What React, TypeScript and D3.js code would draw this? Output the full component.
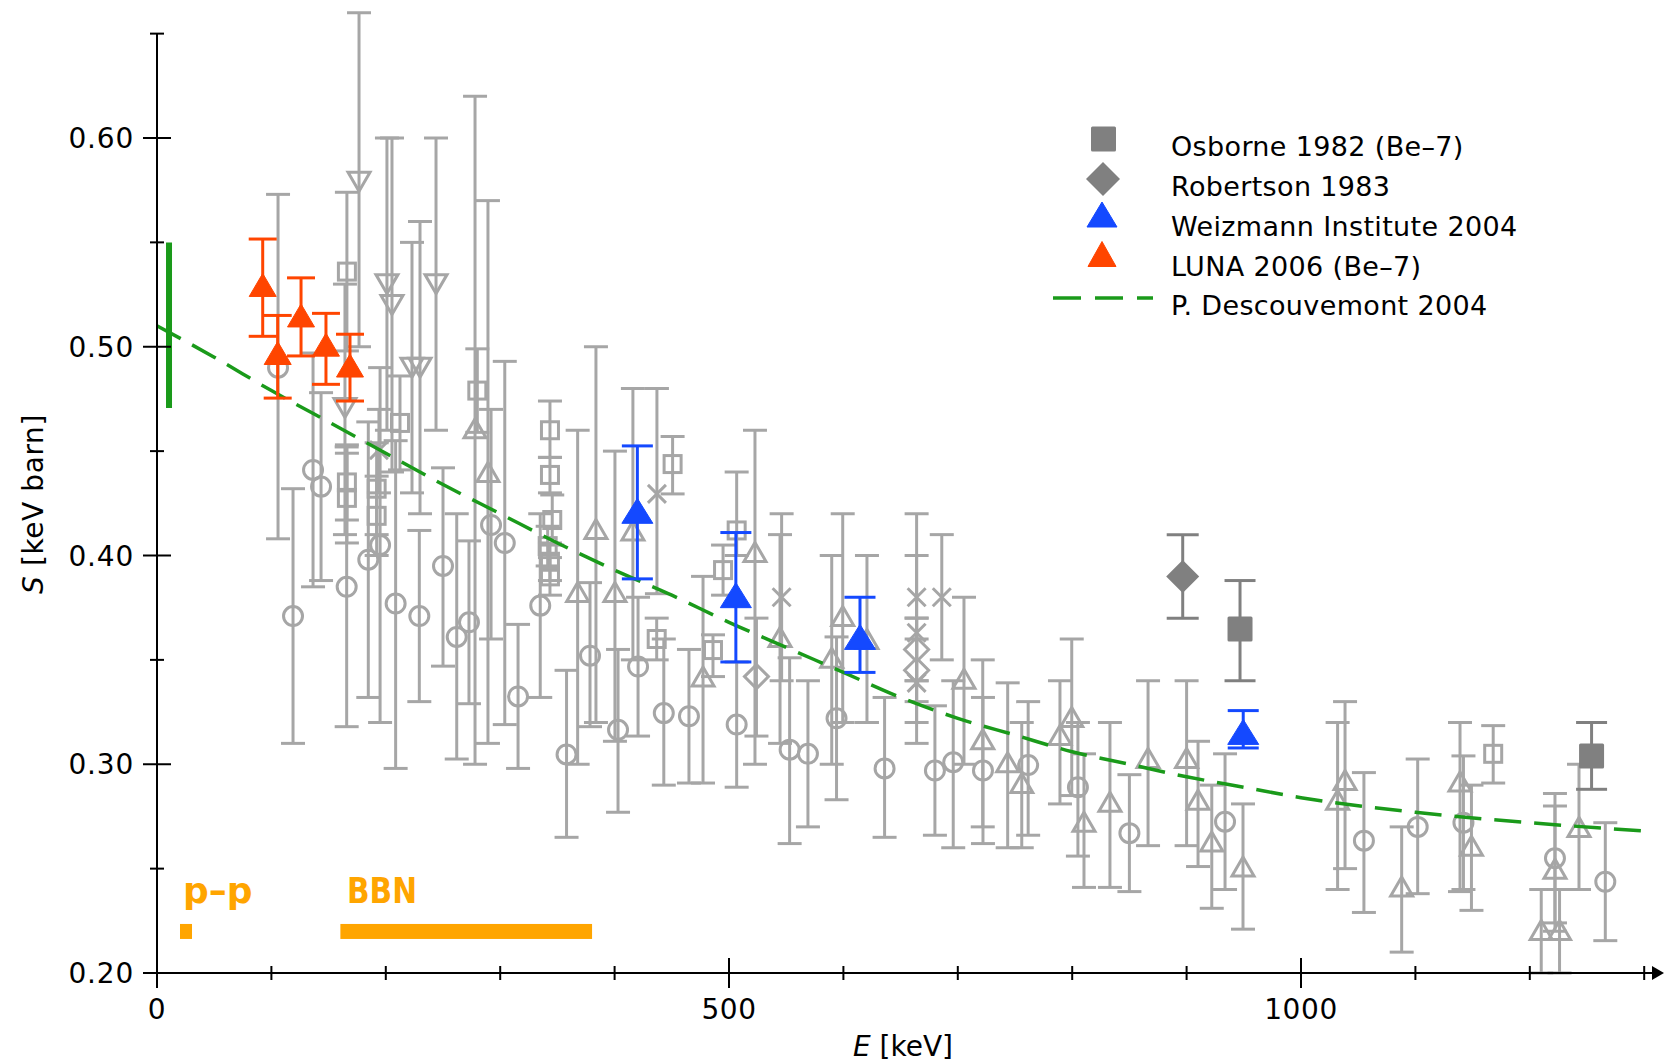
import React from 'react';
import * as d3 from 'd3';

// ---------- axis ticks ----------
const xMajorTicks = [0, 500, 1000];
const xMinorTicks = [100, 200, 300, 400, 600, 700, 800, 900, 1100, 1200, 1300];
const yMajorTicks = [0.2, 0.3, 0.4, 0.5, 0.6];
const yMajorLabels = ['0.20', '0.30', '0.40', '0.50', '0.60'];
const yMinorTicks = [0.25, 0.35, 0.45, 0.55, 0.65];

// ---------- data: [E keV, S, low, high] ----------
const grayCircles = [
  [105.8, 0.490, 0.408, 0.573], [118.9, 0.371, 0.310, 0.432], [136.4, 0.441, 0.385, 0.497],
  [143.4, 0.433, 0.388, 0.478], [165.8, 0.385, 0.318, 0.452], [184.7, 0.398, 0.332, 0.464],
  [195.0, 0.405, 0.320, 0.490], [208.6, 0.377, 0.298, 0.455], [229.3, 0.371, 0.330, 0.412],
  [250.0, 0.395, 0.347, 0.442], [262.0, 0.361, 0.3025, 0.420], [272.7, 0.368, 0.329, 0.407],
  [292.0, 0.4146, 0.360, 0.470], [304.0, 0.406, 0.319, 0.493], [315.6, 0.3325, 0.298, 0.367],
  [335.0, 0.376, 0.332, 0.420], [358.0, 0.3047, 0.265, 0.345], [378.5, 0.352, 0.318, 0.387],
  [403.0, 0.3165, 0.277, 0.355], [420.5, 0.3468, 0.3135, 0.380], [443.0, 0.3245, 0.290, 0.360],
  [465.0, 0.323, 0.291, 0.355], [506.7, 0.319, 0.289, 0.349], [553.0, 0.307, 0.262, 0.351],
  [569.0, 0.305, 0.270, 0.340], [594.0, 0.322, 0.283, 0.361], [636.0, 0.298, 0.265, 0.332],
  [680.0, 0.297, 0.266, 0.328], [696.0, 0.301, 0.260, 0.340], [722.0, 0.297, 0.262, 0.332],
  [761.5, 0.2996, 0.266, 0.330], [805.0, 0.289, 0.256, 0.320], [850.0, 0.267, 0.239, 0.295],
  [933.6, 0.2725, 0.240, 0.305], [1055.0, 0.2634, 0.229, 0.296], [1102.0, 0.270, 0.238, 0.3025],
  [1142.0, 0.272, 0.240, 0.304], [1222.0, 0.255, 0.224, 0.286], [1266.0, 0.2437, 0.2155, 0.272],
];
const graySquares = [
  [166.0, 0.536, 0.498, 0.574], [166.0, 0.435, 0.417, 0.453], [166.0, 0.4276, 0.406, 0.449],
  [192.0, 0.432, 0.410, 0.454], [192.0, 0.419, 0.400, 0.438], [212.4, 0.4635, 0.441, 0.486],
  [280.0, 0.479, 0.459, 0.499], [343.5, 0.460, 0.447, 0.474], [343.5, 0.4386, 0.430, 0.447],
  [345.5, 0.417, 0.405, 0.429], [341.5, 0.4045, 0.395, 0.414], [343.5, 0.397, 0.388, 0.406],
  [343.5, 0.390, 0.381, 0.399], [436.8, 0.360, 0.350, 0.370], [450.7, 0.4438, 0.4295, 0.457],
  [486.0, 0.3547, 0.342, 0.362], [494.8, 0.393, 0.381, 0.405], [506.7, 0.412, 0.400, 0.440],
  [1168.0, 0.305, 0.291, 0.3185],
];
const grayTrianglesDown = [
  [164.3, 0.4707, 0.410, 0.530], [176.6, 0.579, 0.500, 0.660], [201.0, 0.530, 0.460, 0.600],
  [205.4, 0.520, 0.440, 0.600], [222.9, 0.490, 0.430, 0.550], [229.9, 0.490, 0.420, 0.560],
  [243.9, 0.530, 0.460, 0.600],
];
const grayTrianglesUp = [
  [278.0, 0.461, 0.300, 0.620], [289.3, 0.440, 0.310, 0.570], [367.7, 0.3825, 0.300, 0.460],
  [383.7, 0.4127, 0.320, 0.500], [400.3, 0.3825, 0.311, 0.450], [416.0, 0.412, 0.350, 0.480],
  [477.3, 0.342, 0.291, 0.390], [522.7, 0.4017, 0.300, 0.460], [544.6, 0.361, 0.310, 0.410],
  [589.8, 0.351, 0.300, 0.400], [599.4, 0.371, 0.320, 0.420], [620.6, 0.360, 0.320, 0.400],
  [705.4, 0.341, 0.300, 0.380], [721.8, 0.312, 0.270, 0.350], [743.6, 0.301, 0.260, 0.339],
  [755.9, 0.291, 0.260, 0.320], [789.3, 0.314, 0.281, 0.340], [799.6, 0.3226, 0.285, 0.360],
  [810.3, 0.2725, 0.241, 0.305], [833.0, 0.282, 0.241, 0.320], [866.3, 0.303, 0.261, 0.340],
  [900.0, 0.303, 0.261, 0.340], [910.0, 0.283, 0.251, 0.311], [922.0, 0.263, 0.231, 0.290],
  [949.3, 0.251, 0.221, 0.281], [1032.0, 0.283, 0.240, 0.320], [1038.5, 0.2925, 0.250, 0.330],
  [1088.0, 0.2414, 0.210, 0.270], [1139.0, 0.2917, 0.239, 0.320], [1149.0, 0.261, 0.230, 0.290],
  [1210.0, 0.2206, 0.200, 0.240], [1226.0, 0.2206, 0.200, 0.240], [1222.0, 0.250, 0.220, 0.280],
  [1243.0, 0.270, 0.240, 0.300],
];
const grayCrosses = [
  [194.0, 0.4505, 0.430, 0.470], [437.0, 0.4295, 0.3817, 0.480], [546.0, 0.380, 0.340, 0.420],
  [664.0, 0.380, 0.340, 0.420], [664.0, 0.363, 0.320, 0.400], [664.0, 0.339, 0.310, 0.370],
  [686.0, 0.380, 0.350, 0.410],
];
const grayDiamonds = [
  [524.0, 0.342, 0.3135, 0.370], [664.0, 0.355, 0.340, 0.370], [664.0, 0.345, 0.330, 0.360],
];

const osborne = [[946.7, 0.3648, 0.340, 0.388], [1254.0, 0.304, 0.288, 0.320]];
const robertson = [[896.6, 0.390, 0.370, 0.410]];
const weizmann = [
  [419.9, 0.4214, 0.3888, 0.4525], [506.0, 0.381, 0.349, 0.411],
  [614.5, 0.361, 0.344, 0.380], [949.5, 0.3155, 0.3078, 0.3257],
];
const luna = [
  [92.4, 0.5296, 0.505, 0.5516], [105.5, 0.497, 0.4754, 0.515], [125.9, 0.515, 0.4956, 0.533],
  [147.7, 0.501, 0.482, 0.516], [168.7, 0.491, 0.474, 0.506],
];

// Descouvemont 2004 theory curve
const descE = [0, 50, 100, 150, 200, 250, 300, 350, 400, 450, 500, 550, 600, 650, 700, 750, 800, 850, 900, 950, 1000, 1100, 1200, 1300];
const descS = [0.510, 0.495, 0.479, 0.464, 0.449, 0.434, 0.420, 0.406, 0.393, 0.381, 0.368, 0.356, 0.344, 0.332, 0.322, 0.314, 0.306, 0.300, 0.294, 0.289, 0.284, 0.277, 0.272, 0.268];

// extrapolated S(0) bar
const s0E = 10.5;
const s0Range = [0.4707, 0.550];

// astrophysical energy windows
const windowS = 0.2199;
const ppRange = [20.1, 30.6];
const bbnRange = [160.3, 380.3];

const legendLabels = ['Osborne 1982 (Be\u20137)', 'Robertson 1983', 'Weizmann Institute 2004', 'LUNA 2006 (Be\u20137)', 'P. Descouvemont 2004'];

// ---------- colours ----------
const LIGHT = '#a6a6a6';
const DARK = '#808080';
const BLUE = '#1449ff';
const RED = '#ff4500';
const GREEN = '#1a9a1a';
const ORANGE = '#ffa500';

const W = 1664;
const H = 1063;
const FONT = "'DejaVu Sans', Verdana, sans-serif";

const x = d3.scaleLinear().domain([0, 1000]).range([157, 1301]);
const y = d3.scaleLinear().domain([0.2, 0.6]).range([973, 138]);

const triPath = (cx: number, cy: number, w: number, h: number, up = true) =>
  up
    ? `M${cx},${cy - h / 2}L${cx + w / 2},${cy + h / 2}L${cx - w / 2},${cy + h / 2}Z`
    : `M${cx},${cy + h / 2}L${cx + w / 2},${cy - h / 2}L${cx - w / 2},${cy - h / 2}Z`;
const diamondPath = (cx: number, cy: number, s: number) =>
  `M${cx},${cy - s}L${cx + s},${cy}L${cx},${cy + s}L${cx - s},${cy}Z`;
const crossPath = (cx: number, cy: number, s: number) =>
  `M${cx - s},${cy - s}L${cx + s},${cy + s}M${cx - s},${cy + s}L${cx + s},${cy - s}`;

function ErrorBar({ d, color, cap, sw }: { d: number[]; color: string; cap: number; sw: number }) {
  const cx = x(d[0]);
  const y0 = y(d[2]);
  const y1 = y(d[3]);
  return (
    <g stroke={color} strokeWidth={sw} fill="none">
      <line x1={cx} x2={cx} y1={y0} y2={y1} />
      <line x1={cx - cap / 2} x2={cx + cap / 2} y1={y0} y2={y0} />
      <line x1={cx - cap / 2} x2={cx + cap / 2} y1={y1} y2={y1} />
    </g>
  );
}

export default function App() {
  const descLine = d3
    .line<number>()
    .x((_, i) => x(descE[i]))
    .y((v) => y(v))
    .curve(d3.curveMonotoneX)(descS) as string;

  const xEnd = 1664;
  const gsw = 3;
  const gcap = 24;

  return (
    <svg width={W} height={H} viewBox={`0 0 ${W} ${H}`} style={{ position: 'absolute', left: 0, top: 0, background: '#fff' }} fontFamily={FONT}>
      <rect x={0} y={0} width={W} height={H} fill="#fff" />

      {/* gray literature data */}
      <g>
        {grayCircles.map((d, i) => (
          <g key={`c${i}`}>
            <ErrorBar d={d} color={LIGHT} cap={gcap} sw={gsw} />
            <circle cx={x(d[0])} cy={y(d[1])} r={9.5} fill="none" stroke={LIGHT} strokeWidth={gsw} />
          </g>
        ))}
        {graySquares.map((d, i) => (
          <g key={`s${i}`}>
            <ErrorBar d={d} color={LIGHT} cap={gcap} sw={gsw} />
            <rect x={x(d[0]) - 8.5} y={y(d[1]) - 8.5} width={17} height={17} fill="none" stroke={LIGHT} strokeWidth={gsw} />
          </g>
        ))}
        {grayTrianglesDown.map((d, i) => (
          <g key={`td${i}`}>
            <ErrorBar d={d} color={LIGHT} cap={gcap} sw={gsw} />
            <path d={triPath(x(d[0]), y(d[1]), 22, 19, false)} fill="none" stroke={LIGHT} strokeWidth={gsw} strokeLinejoin="miter" />
          </g>
        ))}
        {grayTrianglesUp.map((d, i) => (
          <g key={`tu${i}`}>
            <ErrorBar d={d} color={LIGHT} cap={gcap} sw={gsw} />
            <path d={triPath(x(d[0]), y(d[1]), 22, 19, true)} fill="none" stroke={LIGHT} strokeWidth={gsw} strokeLinejoin="miter" />
          </g>
        ))}
        {grayCrosses.map((d, i) => (
          <g key={`x${i}`}>
            <ErrorBar d={d} color={LIGHT} cap={gcap} sw={gsw} />
            <path d={crossPath(x(d[0]), y(d[1]), 9)} fill="none" stroke={LIGHT} strokeWidth={gsw} />
          </g>
        ))}
        {grayDiamonds.map((d, i) => (
          <g key={`dm${i}`}>
            <ErrorBar d={d} color={LIGHT} cap={gcap} sw={gsw} />
            <path d={diamondPath(x(d[0]), y(d[1]), 12)} fill="none" stroke={LIGHT} strokeWidth={gsw} />
          </g>
        ))}
      </g>

      {/* theory curve */}
      <path d={descLine} fill="none" stroke={GREEN} strokeWidth={3.5} strokeDasharray="27 13" />

      {/* S(0) bar */}
      <line x1={x(s0E)} x2={x(s0E)} y1={y(s0Range[0])} y2={y(s0Range[1])} stroke={GREEN} strokeWidth={6} />

      {/* highlighted data */}
      {robertson.map((d, i) => (
        <g key={`r${i}`}>
          <ErrorBar d={d} color={DARK} cap={32} sw={3} />
          <path d={diamondPath(x(d[0]), y(d[1]), 16.5)} fill={DARK} />
        </g>
      ))}
      {osborne.map((d, i) => (
        <g key={`o${i}`}>
          <ErrorBar d={d} color={DARK} cap={31} sw={3} />
          <rect x={x(d[0]) - 12.5} y={y(d[1]) - 12.5} width={25} height={25} rx={1.5} fill={DARK} />
        </g>
      ))}
      {weizmann.map((d, i) => (
        <g key={`w${i}`}>
          <ErrorBar d={d} color={BLUE} cap={31} sw={3} />
          <path d={triPath(x(d[0]), y(d[1]), 31, 25, true)} fill={BLUE} stroke={BLUE} strokeWidth={1} strokeLinejoin="round" />
        </g>
      ))}
      {luna.map((d, i) => (
        <g key={`l${i}`}>
          <ErrorBar d={d} color={RED} cap={28} sw={3} />
          <path d={triPath(x(d[0]), y(d[1]), 27, 23, true)} fill={RED} stroke={RED} strokeWidth={1} strokeLinejoin="round" />
        </g>
      ))}

      {/* energy windows */}
      <rect x={x(ppRange[0])} y={y(windowS) - 7.5} width={x(ppRange[1]) - x(ppRange[0])} height={15} fill={ORANGE} />
      <rect x={x(bbnRange[0])} y={y(windowS) - 7.5} width={x(bbnRange[1]) - x(bbnRange[0])} height={15} fill={ORANGE} />
      <text x={183} y={903} fontSize={36} fontWeight="bold" fill={ORANGE}>p{'\u2013'}p</text>
      <text x={347} y={903} fontSize={36} fontWeight="bold" fill={ORANGE} textLength={70} lengthAdjust="spacingAndGlyphs">BBN</text>

      {/* y axis */}
      <g stroke="#000" strokeWidth={2}>
        <line x1={x(0)} x2={x(0)} y1={y(0.65)} y2={y(0.2) + 15} />
        {yMajorTicks.map((t) => (
          <line key={`ym${t}`} x1={x(0) - 14} x2={x(0) + 14} y1={y(t)} y2={y(t)} />
        ))}
        {yMinorTicks.map((t) => (
          <line key={`yn${t}`} x1={x(0) - 7} x2={x(0) + 7} y1={y(t)} y2={y(t)} />
        ))}
        {/* x axis */}
        <line x1={x(0) - 14} x2={xEnd - 8} y1={y(0.2)} y2={y(0.2)} />
        {xMajorTicks.map((t) => (
          <line key={`xm${t}`} x1={x(t)} x2={x(t)} y1={y(0.2) - 15} y2={y(0.2) + 15} />
        ))}
        {xMinorTicks.map((t) => (
          <line key={`xn${t}`} x1={x(t)} x2={x(t)} y1={y(0.2) - 7} y2={y(0.2) + 7} />
        ))}
      </g>
      <path d={`M${xEnd - 12},${y(0.2) - 7}L${xEnd},${y(0.2)}L${xEnd - 12},${y(0.2) + 7}Z`} fill="#000" />

      {yMajorTicks.map((t, i) => (
        <text key={`yl${t}`} x={134} y={y(t) + 10} fontSize={28} letterSpacing={0.8} textAnchor="end" fill="#000">
          {yMajorLabels[i]}
        </text>
      ))}
      {xMajorTicks.map((t) => (
        <text key={`xl${t}`} x={x(t)} y={1019} fontSize={28} letterSpacing={0.6} textAnchor="middle" fill="#000">
          {t}
        </text>
      ))}

      <text x={903} y={1056} fontSize={28} textAnchor="middle" fill="#000">
        <tspan fontStyle="italic">E</tspan> [keV]
      </text>
      <text transform="translate(43,504) rotate(-90)" fontSize={28} letterSpacing={0.6} textAnchor="middle" fill="#000">
        <tspan fontStyle="italic">S</tspan> [keV barn]
      </text>

      {/* legend */}
      <g fontSize={27} letterSpacing={0.35} fill="#000">
        <rect x={1091} y={126.5} width={25} height={25} rx={1.5} fill={DARK} />
        <path d={diamondPath(1103, 179, 17)} fill={DARK} />
        <path d={triPath(1102, 214.5, 30, 25, true)} fill={BLUE} stroke={BLUE} strokeWidth={1} strokeLinejoin="round" />
        <path d={triPath(1102, 254, 28, 25, true)} fill={RED} stroke={RED} strokeWidth={1} strokeLinejoin="round" />
        <line x1={1053} x2={1153} y1={298} y2={298} stroke={GREEN} strokeWidth={3.5} strokeDasharray="28 14" />
        {legendLabels.map((l, i) => (
          <text key={l} x={1171} y={[156, 196, 236, 276, 315][i]}>
            {l}
          </text>
        ))}
      </g>
    </svg>
  );
}
